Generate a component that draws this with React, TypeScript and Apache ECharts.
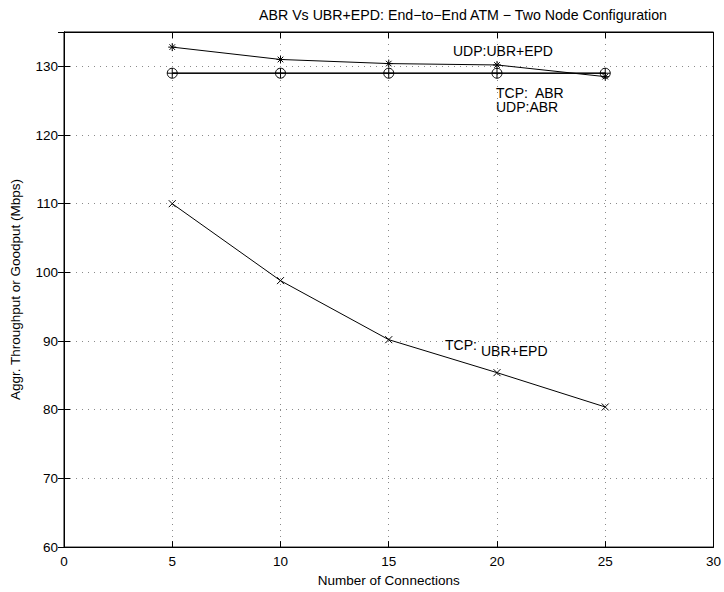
import React, { useEffect, useRef } from "react";
import * as echarts from "echarts";

// Number of connections on the x axis
const connections = [5, 10, 15, 20, 25];

// Aggregate throughput / goodput (Mbps)
const udpUbrEpd = [132.8, 131.0, 130.4, 130.2, 128.5];
const tcpAbr = [129.0, 129.0, 129.0, 129.0, 129.0];
const udpAbr = [129.0, 129.0, 129.0, 129.0, 129.0];
const tcpUbrEpd = [110.0, 98.8, 90.2, 85.4, 80.4];

const titleText = "ABR Vs UBR+EPD: End\u2212to\u2212End ATM \u2212 Two Node Configuration";
const xName = "Number of Connections";
const yName = "Aggr. Throughput or Goodput (Mbps)";

const FONT = "Liberation Sans, Arial, Helvetica, sans-serif";

// stroke-only marker outlines
const asteriskPath = "path://M5 0 L5 10 M0 5 L10 5 M1.5 1.5 L8.5 8.5 M8.5 1.5 L1.5 8.5";
const plusPath = "path://M5 0 L5 10 M0 5 L10 5";
const crossPath = "path://M0 0 L10 10 M10 0 L0 10";

const pairs = (ys: number[]) => connections.map((x, i) => [x, ys[i]]);

export default function App() {
  const ref = useRef<HTMLDivElement>(null);

  useEffect(() => {
    if (!ref.current) return;
    const chart = echarts.init(ref.current, null, { renderer: "svg" });

    const tickStyle = { inside: true, length: 6, lineStyle: { color: "#000", width: 1 } };
    const gridLine = {
      show: true,
      showMinLine: false,
      showMaxLine: false,
      lineStyle: { color: "#8a8a8a", width: 1, type: [1, 5] as any },
    };
    const markerStyle = { color: "none", borderColor: "#000", borderWidth: 1 };

    chart.setOption({
      animation: false,
      backgroundColor: "#fff",
      textStyle: { fontFamily: FONT },
      grid: {
        left: 59,
        right: 10,
        top: 32,
        bottom: 44,
        show: true,
        borderColor: "#000",
        borderWidth: 1,
        backgroundColor: "transparent",
      },
      xAxis: [
        {
          type: "value",
          min: 0,
          max: 30,
          interval: 5,
          position: "bottom",
          axisLine: { show: true, lineStyle: { color: "#000", width: 1 } },
          axisTick: tickStyle,
          axisLabel: { color: "#000", fontSize: 13.5, margin: 7, fontFamily: FONT },
          splitLine: gridLine,
          name: xName,
          nameLocation: "middle",
          nameGap: 25,
          nameTextStyle: { color: "#000", fontSize: 13.5, fontFamily: FONT },
        },
        {
          type: "value",
          min: 0,
          max: 30,
          interval: 5,
          position: "top",
          axisLine: { show: true, lineStyle: { color: "#000", width: 1 } },
          axisTick: tickStyle,
          axisLabel: { show: false },
          splitLine: { show: false },
        },
      ],
      yAxis: [
        {
          type: "value",
          min: 60,
          max: 135,
          interval: 10,
          position: "left",
          axisLine: { show: true, lineStyle: { color: "#000", width: 1 } },
          axisTick: tickStyle,
          axisLabel: {
            color: "#000",
            fontSize: 13.5,
            margin: 6,
            fontFamily: FONT,
            showMaxLabel: false,
            formatter: (v: number) => (v % 10 === 0 ? String(v) : ""),
          },
          splitLine: gridLine,
          name: yName,
          nameLocation: "middle",
          nameGap: 42,
          nameRotate: 90,
          nameTextStyle: { color: "#000", fontSize: 13.5, fontFamily: FONT },
        },
        {
          type: "value",
          min: 60,
          max: 135,
          interval: 10,
          position: "right",
          axisLine: { show: true, lineStyle: { color: "#000", width: 1 } },
          axisTick: tickStyle,
          axisLabel: { show: false },
          splitLine: { show: false },
        },
      ],
      series: [
        {
          name: "TCP: ABR",
          type: "line",
          data: pairs(tcpAbr),
          symbol: "circle",
          symbolSize: 10,
          itemStyle: markerStyle,
          lineStyle: { color: "#333", width: 1.6 },
          z: 3,
        },
        {
          name: "UDP:ABR",
          type: "line",
          data: pairs(udpAbr),
          symbol: plusPath,
          symbolSize: 10,
          itemStyle: markerStyle,
          lineStyle: { color: "#000", width: 1 },
          z: 4,
        },
        {
          name: "UDP:UBR+EPD",
          type: "line",
          data: pairs(udpUbrEpd),
          symbol: asteriskPath,
          symbolSize: 8,
          itemStyle: markerStyle,
          lineStyle: { color: "#000", width: 1 },
          z: 5,
        },
        {
          name: "TCP:UBR+EPD",
          type: "line",
          data: pairs(tcpUbrEpd),
          symbol: crossPath,
          symbolSize: 7,
          itemStyle: markerStyle,
          lineStyle: { color: "#000", width: 1 },
          z: 5,
        },
      ],
      graphic: [
        {
          type: "text",
          x: 667,
          y: 15,
          style: { text: titleText, fill: "#000", fontSize: 14.2, fontFamily: FONT, verticalAlign: "middle", align: "right" },
        },
        {
          type: "text",
          x: 453,
          y: 51,
          style: { text: "UDP:UBR+EPD", fill: "#000", fontSize: 14, fontFamily: FONT, verticalAlign: "middle", align: "left" },
        },
        {
          type: "text",
          x: 496,
          y: 100,
          style: {
            text: "TCP:  ABR\nUDP:ABR",
            fill: "#000",
            fontSize: 14,
            lineHeight: 14.5,
            fontFamily: FONT,
            verticalAlign: "middle",
            align: "left",
          },
        },
        {
          type: "text",
          x: 445,
          y: 345,
          style: { text: "TCP:", fill: "#000", fontSize: 14, fontFamily: FONT, verticalAlign: "middle", align: "left" },
        },
        {
          type: "text",
          x: 481,
          y: 351,
          style: { text: "UBR+EPD", fill: "#000", fontSize: 14, fontFamily: FONT, verticalAlign: "middle", align: "left" },
        },
      ],
    });

    return () => chart.dispose();
  }, []);

  return (
    <div
      ref={ref}
      style={{ position: "fixed", left: 0, top: 0, width: 724, height: 592, background: "#fff" }}
    />
  );
}
